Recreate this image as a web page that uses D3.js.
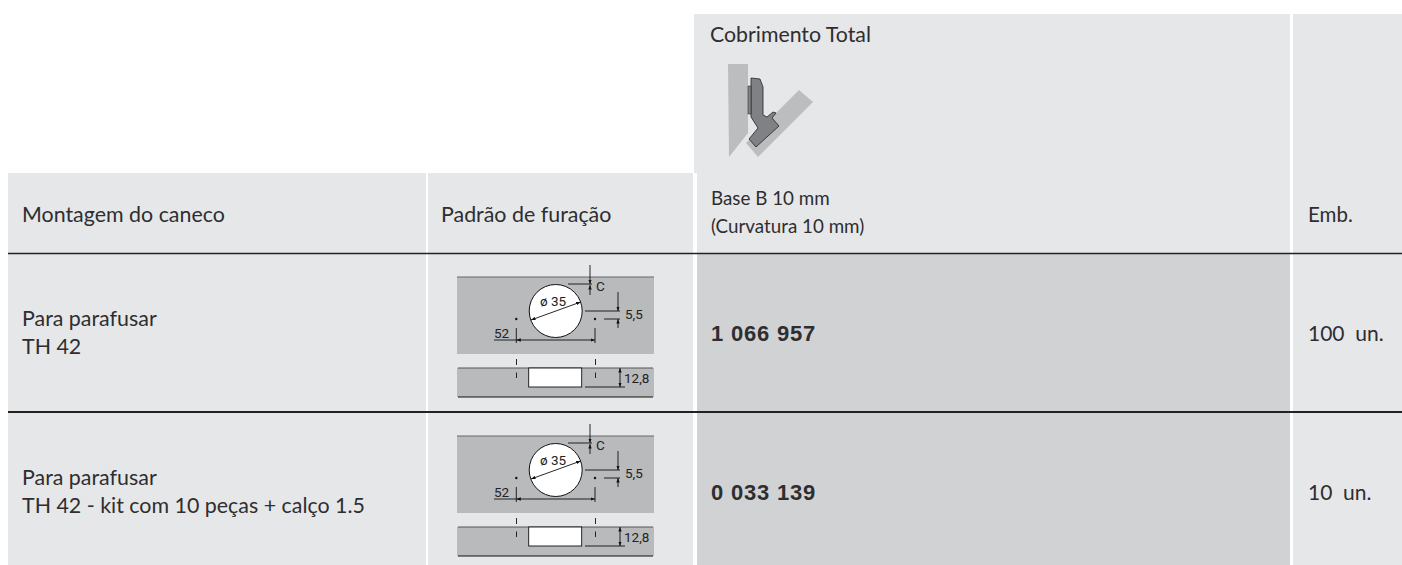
<!DOCTYPE html>
<html>
<head>
<meta charset="utf-8">
<script src="https://cdn.jsdelivr.net/npm/d3@7"></script>
<style>
  html, body { margin: 0; padding: 0; background: #fff; }
  svg { display: block; }
</style>
</head>
<body>
<div id="chart"></div>
<script>
// Table content
const columnHeaders = ["Montagem do caneco", "Padrão de furação", "", "Emb."];
const coverTitle = "Cobrimento Total";
const baseLabels = ["Base B 10 mm", "(Curvatura 10 mm)"];
const mountingLabels = [
  ["Para parafusar", "TH 42"],
  ["Para parafusar", "TH 42 - kit com 10 peças + calço 1.5"]
];
const orderNumbers = ["1 066 957", "0 033 139"];
const packaging = ["100  un.", "10  un."];
const drillLabels = ["ø 35", "C", "5,5", "52", "12,8"];

const width = 1402, height = 565;
const light = "#e6e7e9", mid = "#d1d2d4", panel = "#b9babc", ink = "#2e2e30";

const svg = d3.select("#chart").append("svg")
  .attr("width", width)
  .attr("height", height);

// 1. Layout
const cols = [[8, 426], [428, 693], [697, 1290], [1293, 1402]];
const textX = [22, 441, 711, 1308];
const headerTop = 173, line1 = 253, line2 = 411, bottom = 565;
const rowTops = [line1, line2];
const rowBottoms = [line2, bottom];
const rowShift = [0, 159];

// 2. Backgrounds
svg.append("rect").attr("x", 694).attr("y", 14).attr("width", 596).attr("height", headerTop - 14).attr("fill", light);
svg.append("rect").attr("x", cols[3][0]).attr("y", 14).attr("width", cols[3][1] - cols[3][0]).attr("height", headerTop - 14).attr("fill", light);

cols.forEach((c, i) => {
  svg.append("rect")
    .attr("x", c[0]).attr("y", headerTop)
    .attr("width", c[1] - c[0]).attr("height", line1 - headerTop)
    .attr("fill", light);
  rowTops.forEach((t, r) => {
    svg.append("rect")
      .attr("x", c[0]).attr("y", t)
      .attr("width", c[1] - c[0]).attr("height", rowBottoms[r] - t)
      .attr("fill", i === 2 ? mid : light);
  });
});

// rules between the rows
[[line1 + 0.5, 1.4], [line2 + 1, 1.8]].forEach(([y, sw]) => {
  svg.append("line")
    .attr("x1", 8).attr("x2", width)
    .attr("y1", y).attr("y2", y)
    .attr("stroke", "#222").attr("stroke-width", sw);
});

// 3. Text
const addText = (x, y, s, size) => svg.append("text")
  .attr("x", x).attr("y", y)
  .attr("font-family", "Lato, sans-serif")
  .attr("font-size", size)
  .attr("fill", ink)
  .style("white-space", "pre")
  .text(s);

addText(710, 41.5, coverTitle, 21.3);
columnHeaders.forEach((h, i) => {
  if (h) addText(textX[i], 221.5, h, i === 3 ? 20.5 : 21.4);
});
baseLabels.forEach((s, i) => addText(711, 205 + i * 28, s, 18.8));

mountingLabels.forEach((lines, r) => {
  lines.forEach((s, i) => addText(22, 326 + rowShift[r] + i * 28, s, 21.4));
});
orderNumbers.forEach((s, r) => {
  addText(711, 340.5 + rowShift[r], s, 22)
    .attr("font-family", "'Liberation Sans', sans-serif")
    .attr("font-weight", 700)
    .attr("letter-spacing", 0.8);
});
packaging.forEach((s, r) => addText(1308, 341 + rowShift[r], s, 21));

// 4. Drilling pattern, drawn once per row
svg.append("defs").append("marker")
  .attr("id", "arrow")
  .attr("viewBox", "0 0 8 6")
  .attr("refX", 8).attr("refY", 3)
  .attr("markerWidth", 5).attr("markerHeight", 4)
  .attr("orient", "auto-start-reverse")
  .append("path").attr("d", "M0,0L8,3L0,6Z").attr("fill", "#111");

function drillPattern(dy) {
  const g = svg.append("g").attr("transform", `translate(0,${dy})`);
  const seg = (x1, y1, x2, y2, arrows) => {
    const l = g.append("line")
      .attr("x1", x1).attr("y1", y1).attr("x2", x2).attr("y2", y2)
      .attr("stroke", "#111").attr("stroke-width", 0.9);
    if (arrows === "both" || arrows === "start") l.attr("marker-start", "url(#arrow)");
    if (arrows === "both" || arrows === "end") l.attr("marker-end", "url(#arrow)");
  };
  const label = (x, y, s) => g.append("text")
    .attr("x", x).attr("y", y)
    .attr("font-family", "Roboto, sans-serif")
    .attr("font-size", 13.5)
    .attr("fill", "#222")
    .text(s);

  // top view
  g.append("rect").attr("x", 457).attr("y", 277).attr("width", 197).attr("height", 77).attr("fill", panel);
  g.append("line").attr("x1", 457).attr("x2", 654).attr("y1", 277).attr("y2", 277).attr("stroke", "#666").attr("stroke-width", 1);
  g.append("circle").attr("cx", 555.7).attr("cy", 311).attr("r", 26.5).attr("fill", "#fff").attr("stroke", "#111").attr("stroke-width", 1);
  [516.3, 595].forEach(x => g.append("circle").attr("cx", x).attr("cy", 319).attr("r", 1.2).attr("fill", "#111"));

  seg(531, 320, 580.7, 302, "both");
  label(540, 306, drillLabels[0]);

  // C
  seg(590, 265, 590, 284, "end");
  seg(590, 295, 590, 285, "end");
  seg(568, 284, 592, 284);
  label(596, 291, drillLabels[1]);

  // 5,5
  seg(618, 292, 618, 311, "end");
  seg(618, 328, 618, 319, "end");
  seg(585, 311, 620, 311);
  seg(604, 319, 620, 319);
  label(625, 319, drillLabels[2]);

  // 52
  seg(516.3, 328, 516.3, 343);
  seg(595, 328, 595, 343);
  seg(494, 340, 516.3, 340);
  seg(516.3, 340, 595, 340, "both");
  label(494, 338, drillLabels[3]);

  // side view
  g.append("rect").attr("x", 457).attr("y", 368).attr("width", 197).attr("height", 29).attr("fill", panel);
  g.append("line").attr("x1", 458).attr("x2", 653).attr("y1", 368).attr("y2", 368).attr("stroke", "#555").attr("stroke-width", 1);
  g.append("line").attr("x1", 458).attr("x2", 653).attr("y1", 397).attr("y2", 397).attr("stroke", "#111").attr("stroke-width", 1);
  g.append("rect").attr("x", 528.7).attr("y", 368).attr("width", 53).attr("height", 19).attr("fill", "#fff").attr("stroke", "#111").attr("stroke-width", 0.9);
  [516.5, 595.5].forEach(x => {
    seg(x, 359, x, 365);
    seg(x, 372.5, x, 378);
  });
  seg(585, 387, 625, 387);
  seg(620, 368, 620, 387, "both");
  label(624, 383, drillLabels[4]);
}
rowShift.forEach(drillPattern);

// 5. Hinge icon
const icon = svg.append("g");
const line = d3.line();
icon.append("path")
  .attr("d", line([[728, 64], [748, 64], [748, 133], [729, 157]]) + "Z")
  .attr("fill", "#bcbdbf");
icon.append("path")
  .attr("d", line([[746, 143], [799, 90], [813, 102], [758, 157]]) + "Z")
  .attr("fill", "#bcbdbf");
icon.append("path")
  .attr("d", line([[751, 78], [760, 79], [763, 87], [763, 115], [767, 117], [773, 112], [776, 113], [772, 118], [779, 126], [756, 147], [749, 139], [758, 128], [751, 117]]) + "Z")
  .attr("fill", "#808184")
  .attr("stroke", "#222")
  .attr("stroke-width", 0.8);
icon.append("rect").attr("x", 748).attr("y", 86).attr("width", 3).attr("height", 28).attr("fill", "#808184").attr("stroke", "#222").attr("stroke-width", 0.5);
</script>
</body>
</html>
